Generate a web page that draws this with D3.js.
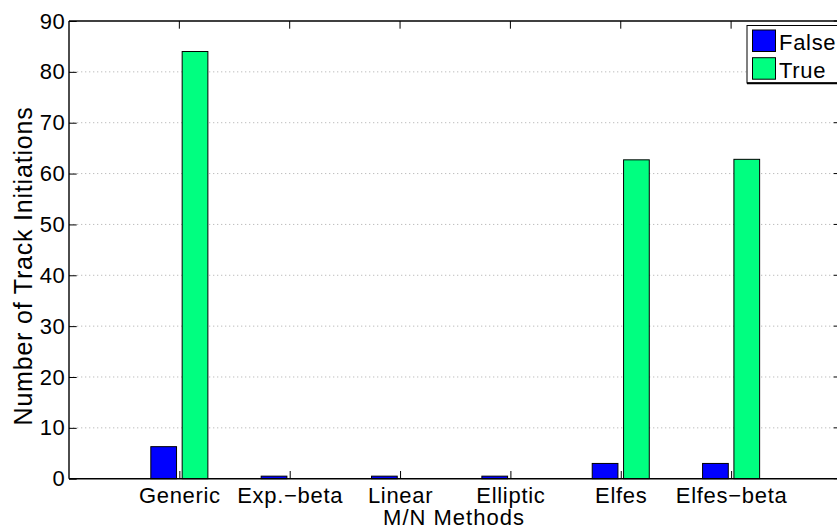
<!DOCTYPE html>
<html>
<head>
<meta charset="utf-8">
<script src="https://cdn.jsdelivr.net/npm/d3@7"></script>
<style>
  html, body { margin: 0; padding: 0; background: #fff; }
  svg { display: block; }
  text { font-family: "Liberation Sans", Arial, Helvetica, sans-serif; fill: #000; }
</style>
</head>
<body>
<svg id="chart" width="837" height="529"></svg>
<script>
// ---- data ----
const categories = ["Generic", "Exp.\u2212beta", "Linear", "Elliptic", "Elfes", "Elfes\u2212beta"];
const seriesNames = ["False", "True"];
const falseValues = [6.3, 0.5, 0.5, 0.5, 3.0, 3.0];
const trueValues  = [84.0, 0, 0, 0, 62.7, 62.8];
const yTicks = [0, 10, 20, 30, 40, 50, 60, 70, 80, 90];
const xLabel = "M/N Methods";
const yLabel = "Number of Track Initiations";
const seriesColors = ["#0000ff", "#00ff80"];

(function () {
// ---- layout ----
const svg = d3.select("#chart");
const pLeft = 69, pTop = 21, pBottom = 478.7;
const unitPx = 110.35;               // px per category index
const pRight = pLeft + 7 * unitPx;   // axis extends past the window (cropped)
const fontSize = 22;
const ls = "0.7px";

const x = d3.scaleLinear().domain([0, 7]).range([pLeft, pRight]);
const y = d3.scaleLinear().domain([0, 90]).range([pBottom, pTop]);

const series = [falseValues, trueValues];
const offsets = [-0.142, 0.142];
const barW = 0.233;
const tickLen = 7.7;

// gridlines
svg.append("g").selectAll("line").data(yTicks.filter(t => t > 0 && t < 90)).join("line")
  .attr("x1", pLeft).attr("x2", pRight)
  .attr("y1", d => y(d)).attr("y2", d => y(d))
  .attr("stroke", "#bdbdbd").attr("stroke-width", 1)
  .attr("stroke-dasharray", "1.3,2.7");

// bars
series.forEach((vals, si) => {
  svg.append("g").selectAll("rect").data(vals.map((v, i) => ({v, i})).filter(d => d.v > 0)).join("rect")
    .attr("x", d => x(d.i + 1 + offsets[si] - barW / 2))
    .attr("width", d => x(barW) - x(0))
    .attr("y", d => y(d.v))
    .attr("height", d => y(0) - y(d.v))
    .attr("fill", seriesColors[si])
    .attr("stroke", "#000").attr("stroke-width", 1);
});

// axes box
const box = [[pLeft, pBottom, pRight, pBottom], [pLeft, pTop, pRight, pTop],
             [pLeft, pTop, pLeft, pBottom], [pRight, pTop, pRight, pBottom]];
svg.append("g").selectAll("line").data(box).join("line")
  .attr("x1", d => d[0]).attr("y1", d => d[1]).attr("x2", d => d[2]).attr("y2", d => d[3])
  .attr("stroke", "#000").attr("stroke-width", 1.4);

// y axis (left) inward ticks
const yAxisG = svg.append("g").attr("transform", `translate(${pLeft},0)`)
  .call(d3.axisLeft(y).tickValues(yTicks).tickSize(-tickLen).tickPadding(3.5));
yAxisG.select(".domain").remove();
yAxisG.selectAll("line").attr("stroke", "#000");
yAxisG.selectAll("text").attr("font-size", fontSize).attr("letter-spacing", ls)
  .attr("font-family", "Liberation Sans, Arial, sans-serif").attr("fill", "#000");

// y ticks (right side, inward)
svg.append("g").selectAll("line").data(yTicks).join("line")
  .attr("x1", pRight - tickLen).attr("x2", pRight)
  .attr("y1", d => y(d)).attr("y2", d => y(d))
  .attr("stroke", "#000");

// x axis (bottom) inward ticks
const xAxisG = svg.append("g").attr("transform", `translate(0,${pBottom})`)
  .call(d3.axisBottom(x).tickValues(d3.range(1, categories.length + 1))
    .tickFormat(d => categories[d - 1]).tickSize(-tickLen).tickPadding(8.7));
xAxisG.select(".domain").remove();
xAxisG.selectAll("line").attr("stroke", "#000");
xAxisG.selectAll("text").attr("font-size", fontSize).attr("letter-spacing", ls)
  .attr("font-family", "Liberation Sans, Arial, sans-serif").attr("fill", "#000");

// top ticks inward
svg.append("g").selectAll("line").data(d3.range(1, categories.length + 1)).join("line")
  .attr("x1", d => x(d)).attr("x2", d => x(d))
  .attr("y1", pTop).attr("y2", pTop + tickLen)
  .attr("stroke", "#000");

// axis labels
svg.append("text").attr("x", 454).attr("y", 525).attr("text-anchor", "middle")
  .attr("font-size", fontSize).attr("letter-spacing", "1px").text(xLabel);
svg.append("text").attr("transform", `translate(32,266) rotate(-90)`)
  .attr("text-anchor", "middle").attr("font-size", 25).attr("letter-spacing", "0.8px").text(yLabel);

// legend
const lg = svg.append("g");
lg.append("rect").attr("x", 747).attr("y", 25.5).attr("width", 100).attr("height", 57.5)
  .attr("fill", "#fff").attr("stroke", "#000").attr("stroke-width", 1);
lg.append("line").attr("x1", 747).attr("x2", 850).attr("y1", 83.3).attr("y2", 83.3)
  .attr("stroke", "#000").attr("stroke-width", 2);
seriesNames.forEach((name, i) => {
  const yy = 30 + i * 27.7;
  lg.append("rect").attr("x", 752.5).attr("y", yy).attr("width", 23).attr("height", 21.5)
    .attr("fill", seriesColors[i]).attr("stroke", "#000").attr("stroke-width", 1);
  lg.append("text").attr("x", 779).attr("y", yy + 20).attr("font-size", fontSize)
    .attr("letter-spacing", ls).text(name);
});
})();
</script>
</body>
</html>
